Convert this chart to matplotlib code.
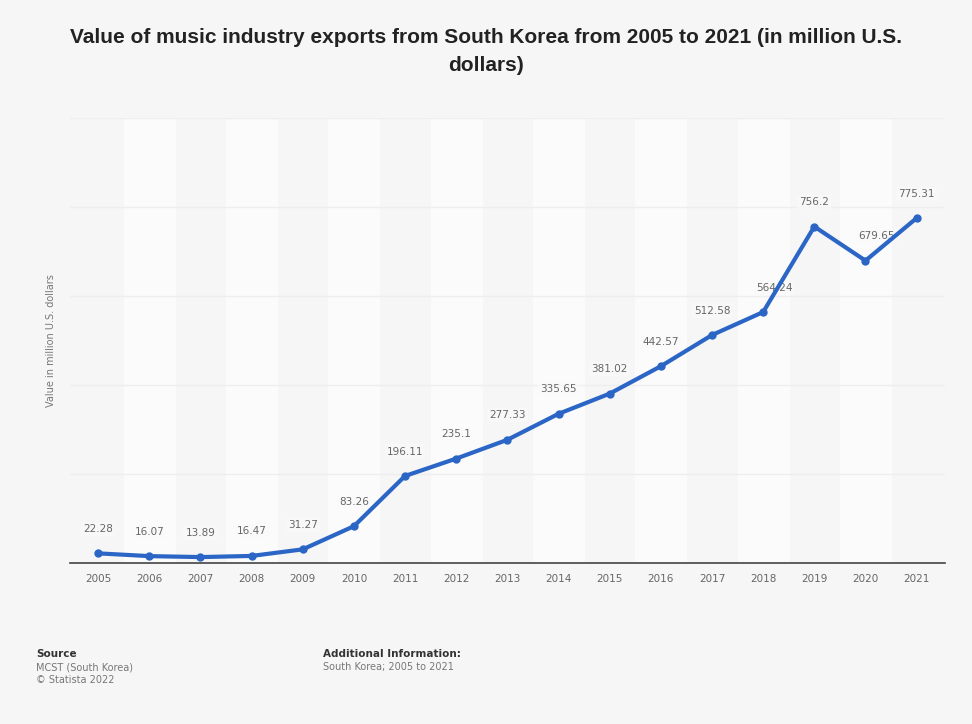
import matplotlib.pyplot as plt

years = ["2005", "2006", "2007", "2008", "2009", "2010", "2011", "2012", "2013",
         "2014", "2015", "2016", "2017", "2018", "2019", "2020", "2021"]
values = [22.28, 16.07, 13.89, 16.47, 31.27, 83.26, 196.11, 235.1, 277.33,
          335.65, 381.02, 442.57, 512.58, 564.24, 756.2, 679.65, 775.31]
labels = ["22.28", "16.07", "13.89", "16.47", "31.27", "83.26", "196.11", "235.1", "277.33",
          "335.65", "381.02", "442.57", "512.58", "564.24", "756.2", "679.65", "775.31"]
y_ticks = [0, 200, 400, 600, 800, 1000]

bg = "#f6f6f6"
fig = plt.figure(figsize=(9.72, 7.24), dpi=100, facecolor=bg)
ax = fig.add_axes([0.072, 0.222, 0.9, 0.615])
ax.set_facecolor(bg)

x = list(range(len(years)))

# alternating column bands like the original
for i in x:
    if i % 2 == 1:
        ax.axvspan(i - 0.5, i + 0.5, color="#fbfbfb", zorder=0)

for t in y_ticks[1:]:
    ax.axhline(t, color="#eeeeee", lw=1.0, zorder=1)

ax.plot(x, values, color="#2b66c6", lw=3, marker="o", ms=5, zorder=3)

for xi, v, lab in zip(x, values, labels):
    dx = 8 if lab in ("564.24", "679.65") else 0
    ax.annotate(lab, (xi, v), xytext=(dx, 14), textcoords="offset points",
                ha="center", va="bottom", fontsize=7.5, color="#666666",
                bbox=dict(boxstyle="square,pad=0.2", fc="#fafafa", ec="none", alpha=0.6),
                zorder=2)

ax.set_xlim(-0.55, len(years) - 0.45)
ax.set_ylim(0, 1000)
ax.set_xticks(x)
ax.set_xticklabels(years, fontsize=7.5, color="#666666")
ax.set_yticks(y_ticks)
ax.set_yticklabels([])
ax.tick_params(axis="both", length=0, pad=8)

for s in ["top", "right", "left"]:
    ax.spines[s].set_visible(False)
ax.spines["bottom"].set_color("#444444")
ax.spines["bottom"].set_linewidth(1.2)

ax.set_ylabel("Value in million U.S. dollars", fontsize=7, color="#777777", labelpad=2)

fig.text(0.5, 0.962, "Value of music industry exports from South Korea from 2005 to 2021 (in million U.S.\ndollars)",
         ha="center", va="top", fontsize=15, fontweight="bold", color="#222222",
         linespacing=1.65, family="Liberation Sans")

fig.text(0.037, 0.093, "Source", fontsize=7.5, fontweight="bold", color="#333333")
fig.text(0.037, 0.074, "MCST (South Korea)", fontsize=7, color="#777777")
fig.text(0.037, 0.056, "© Statista 2022", fontsize=7, color="#777777")
fig.text(0.332, 0.093, "Additional Information:", fontsize=7.5, fontweight="bold", color="#333333")
fig.text(0.332, 0.074, "South Korea; 2005 to 2021", fontsize=7, color="#777777")

fig.savefig("out.png", dpi=100, facecolor=bg)
